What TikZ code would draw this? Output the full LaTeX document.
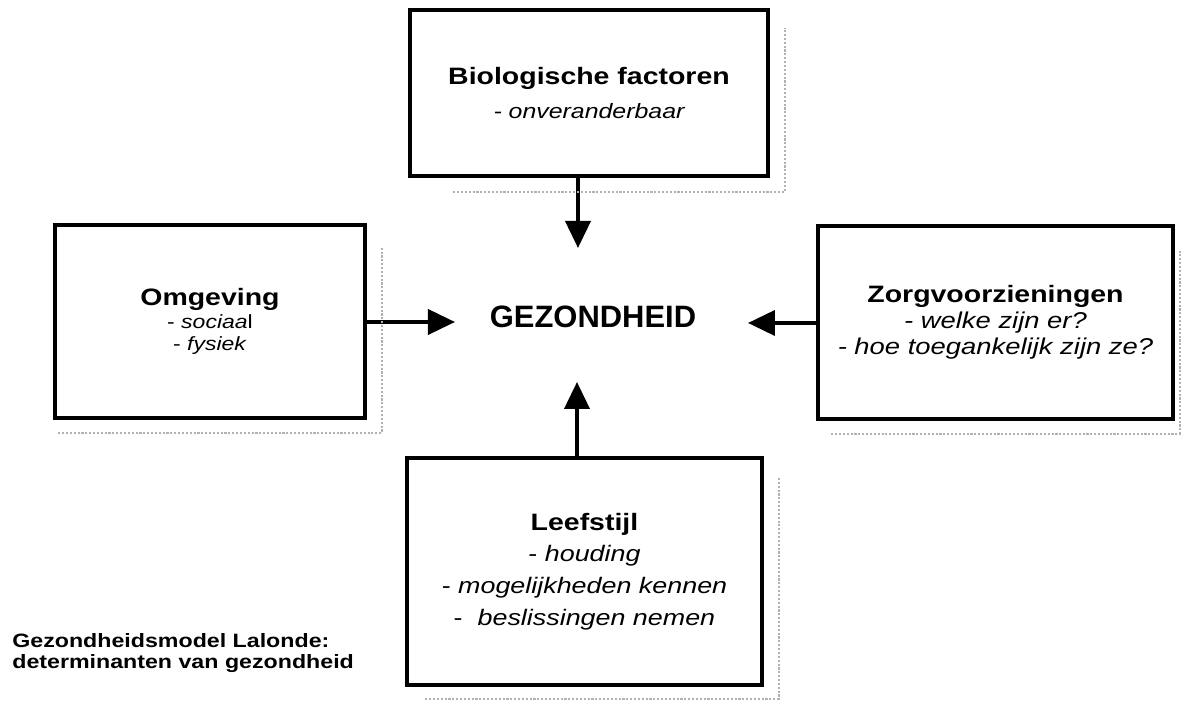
\documentclass[tikz,border=0pt]{standalone}
\usepackage{fontspec}
\setmainfont[FakeStretch=1.2]{Liberation Sans}
\newfontfamily\gewoon{Liberation Sans}
\usetikzlibrary{arrows.meta,calc}

\tikzset{
    blok/.style={draw=black, line width=2pt, align=center, inner sep=0pt},
    pijl/.style={line width=2.2pt, -{Triangle[length=0.54cm,width=0.5cm]}},
    schaduw/.style={draw=black!30, line width=1.2pt, densely dotted},
}

\begin{document}
\begin{tikzpicture}

    \useasboundingbox (-11.86,6.34) rectangle (11.80,-7.70);

    \node[blok, minimum width=7.16cm, minimum height=3.32cm, font=\fontsize{13.5}{19.8}\selectfont] (bio) at (-0.08,4.48)
        {\bfseries Biologische factoren\\
         \fontsize{11.8}{19.8}\selectfont\itshape - onveranderbaar};
    \node[blok, minimum width=6.2cm, minimum height=3.86cm, font=\fontsize{13.5}{13}\selectfont] (omg) at (-7.66,-0.09)
        {\bfseries Omgeving\\
         \fontsize{10.9}{13}\selectfont - \textit{sociaa}l\\
         \fontsize{10.9}{13}\selectfont - \textit{fysiek}};
    \node[blok, minimum width=7.1cm, minimum height=3.86cm, font=\fontsize{13.5}{14.7}\selectfont] (zorg) at (8.05,-0.11)
        {\bfseries Zorgvoorzieningen\\
         \fontsize{13}{14.7}\selectfont\itshape - welke zijn er?\\
         \fontsize{13}{14.7}\selectfont\itshape - hoe toegankelijk zijn ze?};
    \node[blok, minimum width=7.1cm, minimum height=4.54cm, font=\fontsize{13.5}{18}\selectfont] (leef) at (-0.17,-5.09)
        {\bfseries Leefstijl\\
         \fontsize{12.75}{18}\selectfont - \textit{houding}\\
         \fontsize{12.75}{18}\selectfont - \textit{mogelijkheden kennen}\\
         \fontsize{12.75}{18}\selectfont -\ \ \textit{beslissingen nemen}};

    \node (gez) at (0,0) {\gewoon\fontsize{17.6}{20}\selectfont\bfseries GEZONDHEID};

    \node[anchor=north west, align=left, inner sep=0pt, font=\fontsize{11}{11.9}\selectfont\bfseries] (bijschrift) at (-11.62,-6.32)
        {Gezondheidsmodel Lalonde:\\
         determinanten van gezondheid};

    \coordinate (boven) at (-0.30,1.38);
    \coordinate (links) at (-2.76,-0.10);
    \coordinate (rechts) at (3.10,-0.12);
    \coordinate (onder) at (-0.32,-1.30);

    \draw[pijl] (bio.south -| boven) -- (boven);
    \draw[pijl] (omg.east |- links) -- (links);
    \draw[pijl] (zorg.west |- rechts) -- (rechts);
    \draw[pijl] (leef.north -| onder) -- (onder);

    \draw[schaduw] ($(bio.south west)+(0.9,-0.28)$) -- ($(bio.south east)+(0.3,-0.28)$) -- ($(bio.north east)+(0.3,-0.4)$);
    \draw[schaduw] ($(omg.south west)+(0.1,-0.26)$) -- ($(omg.south east)+(0.3,-0.26)$) -- ($(omg.north east)+(0.3,-0.5)$);
    \draw[schaduw] ($(zorg.south west)+(0.3,-0.26)$) -- ($(zorg.south east)+(0.1,-0.26)$) -- ($(zorg.north east)+(0.1,-0.5)$);
    \draw[schaduw] ($(leef.south west)+(0.4,-0.24)$) -- ($(leef.south east)+(0.3,-0.24)$) -- ($(leef.north east)+(0.3,-0.4)$);

\end{tikzpicture}
\end{document}
